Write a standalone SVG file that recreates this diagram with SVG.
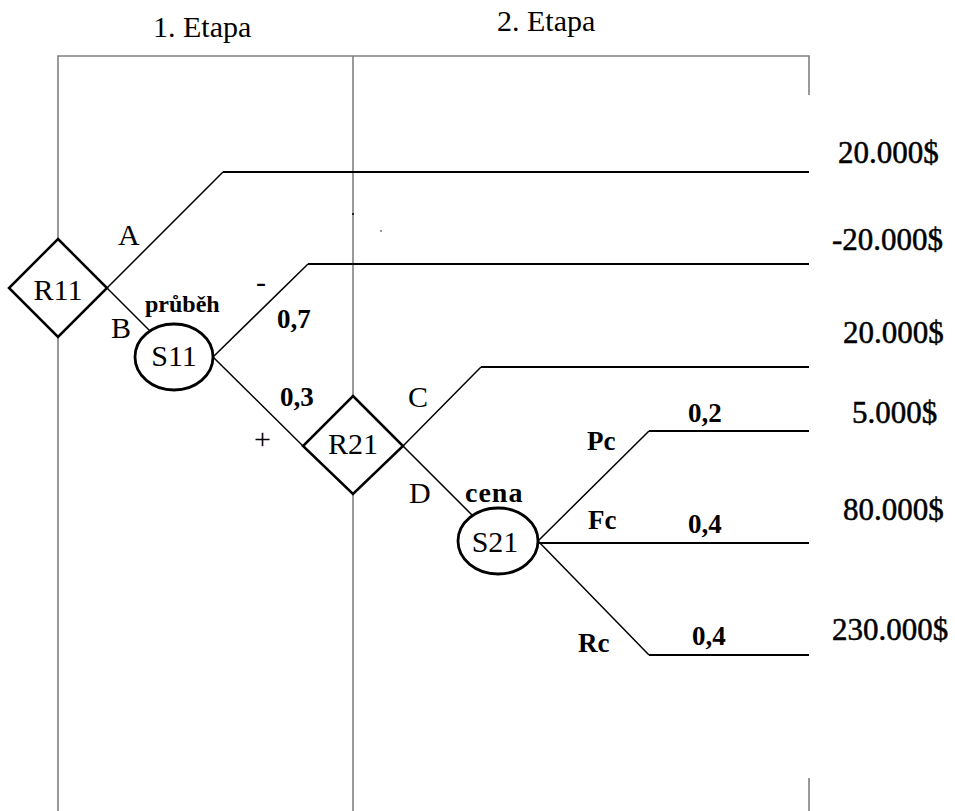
<svg xmlns="http://www.w3.org/2000/svg" width="955" height="811" viewBox="0 0 955 811">
<style>
text{font-family:'Liberation Serif','Times New Roman',Tinos,'DejaVu Serif',serif;fill:#000}
.lbl{font-size:30px}
.b{font-size:27px;font-weight:bold}
.val{font-size:31px;stroke:#000;stroke-width:0.5}
.frame{stroke:#808080;stroke-width:1.6;fill:none}
.edge{stroke:#000;stroke-width:1.5;fill:none}
.hz{stroke:#000;stroke-width:2;fill:none}
.dia{fill:#fff;stroke:#000;stroke-width:2.5}
.ell{fill:#fff;stroke:#000;stroke-width:2.8}
</style>
<rect width="955" height="811" fill="#fff"/>
<g id="frame">
<polyline class="frame" points="58,811 58,56 809,56 809,95"/>
<line class="frame" x1="353" y1="56" x2="353" y2="811"/>
<line class="frame" x1="809" y1="778" x2="809" y2="811"/>
<rect x="352" y="213" width="2" height="2" fill="#222"/>
<rect x="380" y="230" width="2" height="2" fill="#999"/>
<text class="lbl" x="153" y="37">1. Etapa</text>
<text class="lbl" x="497" y="31">2. Etapa</text>
</g>
<g id="connectors">
<polyline class="edge" points="107,288 223,172"/><line class="hz" x1="223" y1="172" x2="809" y2="172"/>
<line class="edge" x1="107" y1="288" x2="150" y2="331"/>
<polyline class="edge" points="213,357 308,264"/><line class="hz" x1="308" y1="264" x2="809" y2="264"/>
<line class="edge" x1="213" y1="357" x2="303" y2="446"/>
<polyline class="edge" points="403,446 481,367"/><line class="hz" x1="481" y1="367" x2="809" y2="367"/>
<line class="edge" x1="403" y1="446" x2="472" y2="515"/>
<polyline class="edge" points="538,541 649,431"/><line class="hz" x1="649" y1="431" x2="809" y2="431"/>
<line class="hz" x1="538" y1="543" x2="809" y2="543"/>
<polyline class="edge" points="538,541 649,655"/><line class="hz" x1="649" y1="655" x2="809" y2="655"/>
<text class="lbl" x="118" y="245">A</text>
<text class="lbl" x="111" y="338">B</text>
<text class="lbl" x="256" y="292">-</text>
<text class="lbl" x="254" y="449">+</text>
<text class="lbl" x="408" y="407">C</text>
<text class="lbl" x="409" y="503">D</text>
<text class="b" x="277" y="328">0,7</text>
<text class="b" x="280" y="406">0,3</text>
<text class="b" x="587" y="450">Pc</text>
<text class="b" x="588" y="529">Fc</text>
<text class="b" x="578" y="652">Rc</text>
<text class="b" x="688" y="422">0,2</text>
<text class="b" x="688" y="533">0,4</text>
<text class="b" x="692" y="645">0,4</text>
<text class="val" x="838" y="163">20.000$</text>
<text class="val" x="832" y="250">-20.000$</text>
<text class="val" x="843" y="343">20.000$</text>
<text class="val" x="852" y="423">5.000$</text>
<text class="val" x="843" y="520">80.000$</text>
<text class="val" x="832" y="640">230.000$</text>
</g>
<g id="R11">
<polygon class="dia" points="58,239 107,288 58,337 9,288"/>
<text class="lbl" x="58" y="300" text-anchor="middle">R11</text>
</g>
<g id="S11">
<ellipse class="ell" cx="174" cy="357" rx="39" ry="33"/>
<text class="lbl" x="174" y="366" text-anchor="middle">S11</text>
<text class="b" x="145" y="312" style="font-size:24px">průběh</text>
</g>
<g id="R21">
<polygon class="dia" points="353,396 403,446 353,494 303,446"/>
<text class="lbl" x="353" y="454" text-anchor="middle">R21</text>
</g>
<g id="S21">
<ellipse class="ell" cx="498" cy="541" rx="40" ry="33"/>
<text class="lbl" x="495" y="552" text-anchor="middle">S21</text>
<text class="b" x="465" y="502" style="font-size:28px;letter-spacing:1px">cena</text>
</g>
</svg>
